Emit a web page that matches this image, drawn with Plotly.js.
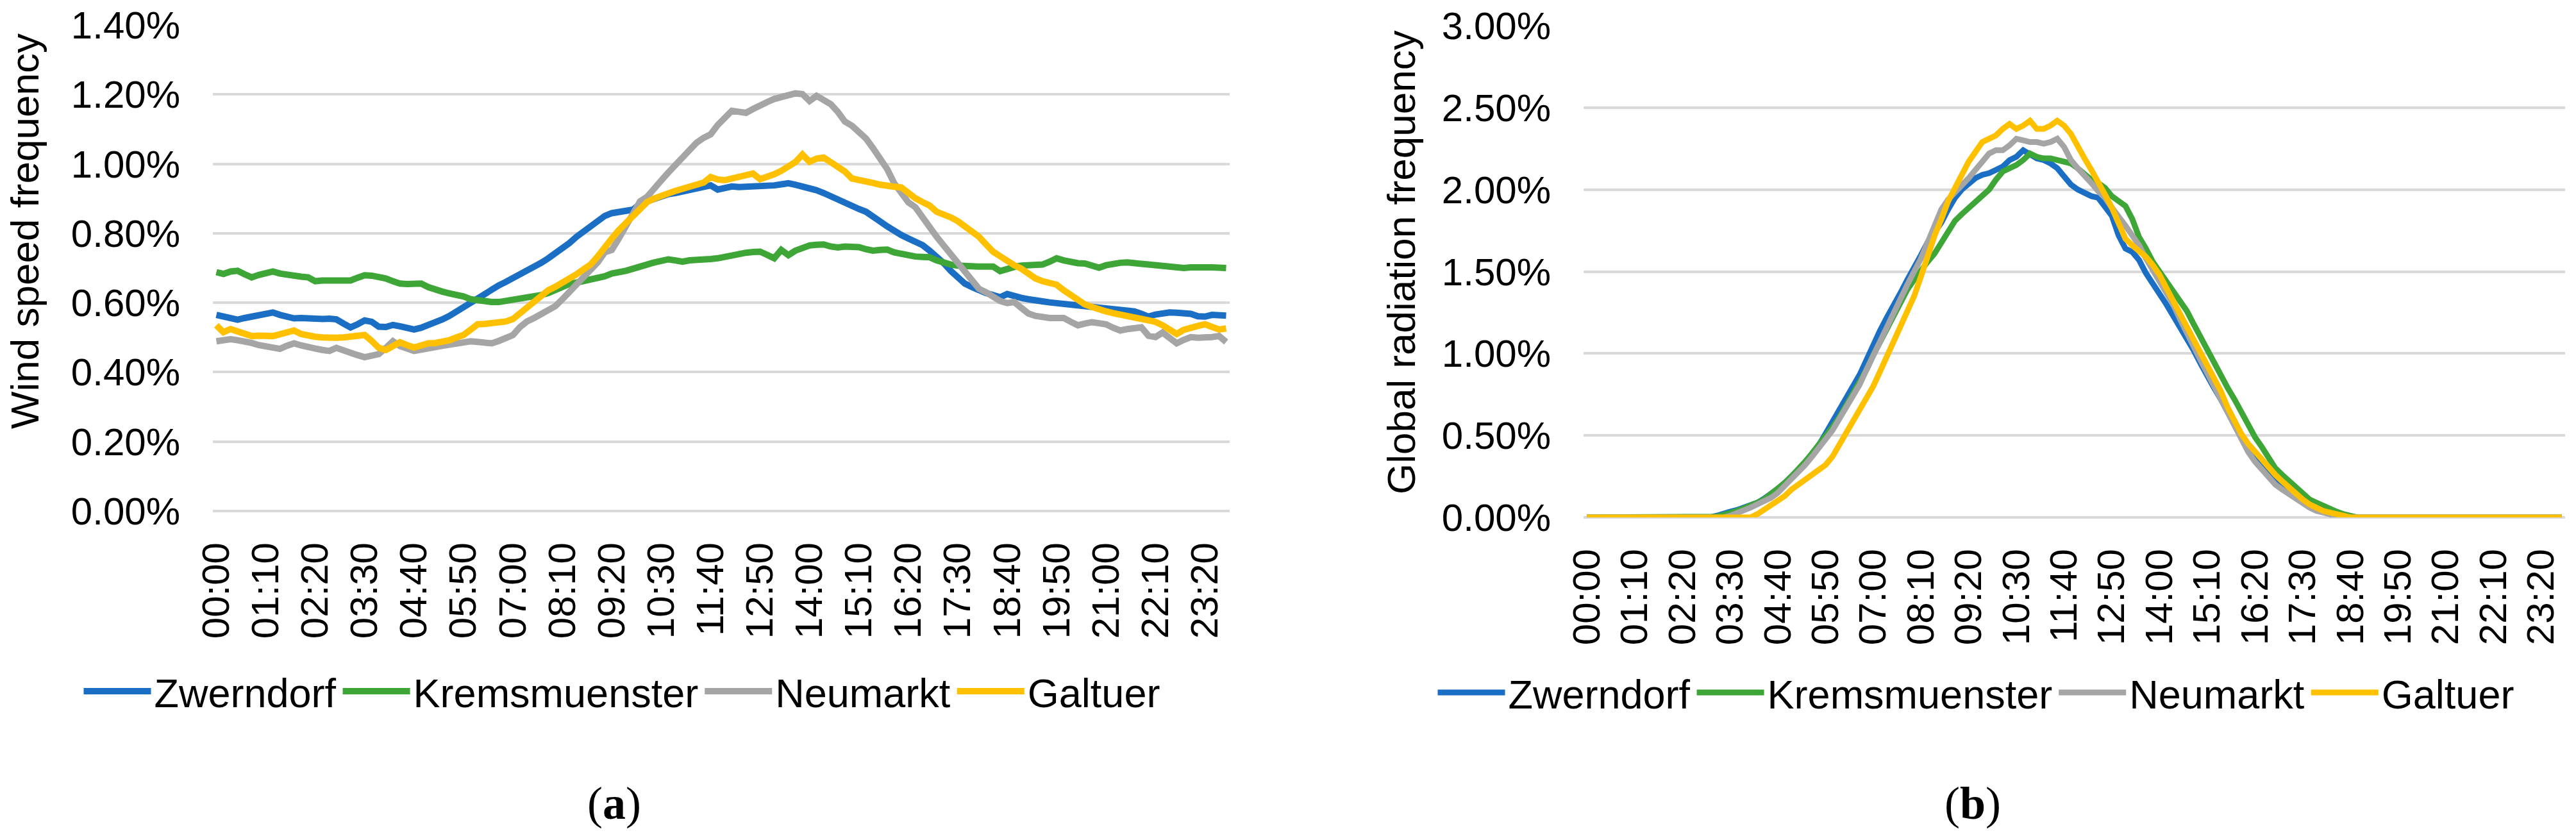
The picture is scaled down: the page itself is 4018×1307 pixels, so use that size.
<!DOCTYPE html>
<html>
<head>
<meta charset="utf-8">
<script src="https://cdn.plot.ly/plotly-3.0.1.min.js"></script>
<style>html,body{margin:0;padding:0;background:#fff;}#chart{width:4018px;height:1307px;}</style>
</head>
<body>
<div id="chart"></div>
<script>
const times = ["00:00","00:10","00:20","00:30","00:40","00:50","01:00","01:10","01:20","01:30","01:40","01:50",
"02:00","02:10","02:20","02:30","02:40","02:50","03:00","03:10","03:20","03:30","03:40","03:50",
"04:00","04:10","04:20","04:30","04:40","04:50","05:00","05:10","05:20","05:30","05:40","05:50",
"06:00","06:10","06:20","06:30","06:40","06:50","07:00","07:10","07:20","07:30","07:40","07:50",
"08:00","08:10","08:20","08:30","08:40","08:50","09:00","09:10","09:20","09:30","09:40","09:50",
"10:00","10:10","10:20","10:30","10:40","10:50","11:00","11:10","11:20","11:30","11:40","11:50",
"12:00","12:10","12:20","12:30","12:40","12:50","13:00","13:10","13:20","13:30","13:40","13:50",
"14:00","14:10","14:20","14:30","14:40","14:50","15:00","15:10","15:20","15:30","15:40","15:50",
"16:00","16:10","16:20","16:30","16:40","16:50","17:00","17:10","17:20","17:30","17:40","17:50",
"18:00","18:10","18:20","18:30","18:40","18:50","19:00","19:10","19:20","19:30","19:40","19:50",
"20:00","20:10","20:20","20:30","20:40","20:50","21:00","21:10","21:20","21:30","21:40","21:50",
"22:00","22:10","22:20","22:30","22:40","22:50","23:00","23:10","23:20","23:30","23:40","23:50"];

const tickLabels = ["00:00","01:10","02:20","03:30","04:40","05:50","07:00","08:10","09:20","10:30","11:40",
"12:50","14:00","15:10","16:20","17:30","18:40","19:50","21:00","22:10","23:20"];

const stations = ["Zwerndorf","Kremsmuenster","Neumarkt","Galtuer"];

// Wind speed frequency (%)
const windZwerndorf = [
0.565,0.560,0.556,0.551,0.556,0.560,0.565,0.568,0.572,0.565,0.558,0.555,
0.556,0.554,0.555,0.553,0.554,0.552,0.540,0.529,0.538,0.549,0.545,0.531,
0.530,0.536,0.532,0.526,0.523,0.528,0.535,0.542,0.552,0.562,0.575,0.588,
0.600,0.612,0.627,0.640,0.650,0.660,0.670,0.680,0.690,0.702,0.715,0.728,
0.742,0.758,0.772,0.790,0.805,0.822,0.835,0.850,0.858,0.860,0.862,0.868,
0.885,0.893,0.900,0.906,0.913,0.916,0.920,0.924,0.928,0.932,0.938,0.926,
0.932,0.935,0.933,0.934,0.932,0.932,0.934,0.938,0.941,0.944,0.940,0.936,
0.930,0.924,0.916,0.906,0.896,0.889,0.878,0.870,0.862,0.850,0.834,0.820,
0.805,0.795,0.785,0.775,0.766,0.750,0.734,0.714,0.692,0.672,0.655,0.645,
0.634,0.628,0.622,0.616,0.625,0.618,0.614,0.610,0.605,0.604,0.601,0.599,
0.596,0.592,0.589,0.587,0.586,0.585,0.584,0.580,0.578,0.576,0.575,0.568,
0.560,0.566,0.570,0.572,0.571,0.569,0.568,0.561,0.560,0.565,0.564,0.563];

const windKremsmuenster = [
0.688,0.683,0.690,0.692,0.682,0.673,0.680,0.687,0.690,0.684,0.680,0.676,
0.675,0.673,0.662,0.664,0.665,0.664,0.663,0.664,0.672,0.679,0.678,0.676,
0.670,0.662,0.655,0.654,0.655,0.655,0.645,0.636,0.632,0.627,0.624,0.618,
0.610,0.606,0.603,0.602,0.602,0.605,0.610,0.614,0.618,0.620,0.622,0.628,
0.638,0.648,0.654,0.658,0.662,0.664,0.670,0.676,0.684,0.686,0.692,0.698,
0.706,0.710,0.716,0.720,0.725,0.722,0.718,0.722,0.722,0.725,0.726,0.728,
0.733,0.738,0.742,0.744,0.746,0.747,0.738,0.728,0.752,0.737,0.750,0.760,
0.765,0.767,0.768,0.762,0.759,0.762,0.763,0.760,0.754,0.750,0.752,0.753,
0.745,0.740,0.734,0.733,0.732,0.731,0.722,0.714,0.710,0.707,0.705,0.704,
0.704,0.704,0.704,0.691,0.698,0.703,0.707,0.708,0.709,0.710,0.718,0.728,
0.722,0.716,0.714,0.713,0.708,0.701,0.708,0.713,0.715,0.716,0.716,0.712,
0.710,0.708,0.707,0.704,0.701,0.700,0.702,0.703,0.701,0.702,0.701,0.700];

const windNeumarkt = [
0.489,0.492,0.495,0.492,0.489,0.484,0.478,0.474,0.470,0.467,0.476,0.483,
0.477,0.471,0.468,0.464,0.461,0.470,0.462,0.455,0.449,0.443,0.448,0.452,
0.470,0.489,0.475,0.466,0.461,0.465,0.470,0.473,0.476,0.479,0.482,0.486,
0.489,0.487,0.485,0.483,0.490,0.500,0.507,0.530,0.546,0.556,0.566,0.578,
0.590,0.610,0.630,0.652,0.673,0.695,0.716,0.745,0.752,0.785,0.821,0.860,
0.892,0.905,0.926,0.952,0.975,0.998,1.018,1.040,1.061,1.075,1.085,1.112,
1.135,1.153,1.150,1.147,1.158,1.166,1.178,1.187,1.193,1.198,1.203,1.201,
1.181,1.196,1.185,1.172,1.150,1.122,1.110,1.090,1.073,1.045,1.018,0.985,
0.944,0.915,0.889,0.875,0.845,0.821,0.790,0.765,0.740,0.716,0.692,0.668,
0.640,0.630,0.618,0.605,0.599,0.602,0.585,0.569,0.562,0.558,0.556,0.556,
0.556,0.545,0.535,0.540,0.544,0.541,0.538,0.528,0.520,0.524,0.528,0.529,
0.505,0.501,0.514,0.500,0.483,0.493,0.501,0.499,0.498,0.501,0.504,0.487];

const windGaltuer = [
0.535,0.515,0.524,0.516,0.508,0.504,0.505,0.504,0.504,0.509,0.514,0.520,
0.510,0.504,0.502,0.500,0.498,0.499,0.500,0.501,0.504,0.507,0.490,0.470,
0.464,0.475,0.486,0.478,0.471,0.477,0.483,0.484,0.486,0.492,0.500,0.507,
0.522,0.538,0.539,0.540,0.541,0.546,0.553,0.570,0.590,0.605,0.620,0.636,
0.646,0.657,0.667,0.682,0.696,0.710,0.733,0.756,0.785,0.809,0.830,0.852,
0.873,0.890,0.900,0.910,0.915,0.922,0.929,0.935,0.940,0.946,0.962,0.955,
0.953,0.958,0.962,0.968,0.972,0.956,0.962,0.970,0.980,0.990,1.005,1.027,
1.006,1.015,1.018,1.005,0.993,0.978,0.958,0.955,0.950,0.945,0.940,0.935,
0.934,0.932,0.915,0.901,0.890,0.880,0.862,0.855,0.846,0.835,0.821,0.808,
0.790,0.768,0.747,0.734,0.720,0.708,0.698,0.684,0.670,0.662,0.658,0.652,
0.636,0.621,0.608,0.595,0.588,0.580,0.575,0.570,0.566,0.563,0.560,0.557,
0.553,0.545,0.535,0.521,0.510,0.522,0.529,0.533,0.538,0.530,0.523,0.526];

// Global radiation frequency (%)
const radZwerndorf = [
0,0,0,0,0,0,0,0,0,0,0,0,
0,0,0,0,0,0,0,0.010,0.025,0.035,0.045,0.058,
0.070,0.090,0.115,0.140,0.175,0.210,0.245,0.290,0.335,0.385,0.440,0.510,
0.580,0.660,0.730,0.800,0.870,0.960,1.060,1.140,1.220,1.290,1.370,1.450,
1.520,1.600,1.680,1.740,1.800,1.880,1.950,2.000,2.040,2.070,2.090,2.100,
2.120,2.140,2.180,2.200,2.240,2.210,2.190,2.180,2.160,2.130,2.080,2.030,
2.000,1.980,1.960,1.950,1.900,1.840,1.720,1.640,1.620,1.570,1.490,1.430,
1.360,1.300,1.230,1.160,1.100,1.020,0.940,0.860,0.790,0.720,0.640,0.560,
0.490,0.420,0.360,0.310,0.270,0.230,0.200,0.170,0.140,0.110,0.080,0.060,
0.040,0.020,0.010,0,0,0,0,0,0,0,0,0,
0,0,0,0,0,0,0,0,0,0,0,0,
0,0,0,0,0,0,0,0,0,0,0,0];

const radKremsmuenster = [
0,0,0,0,0,0,0,0,0,0,0,0,
0,0,0,0,0,0,0,0.005,0.015,0.025,0.040,0.055,
0.070,0.090,0.110,0.140,0.170,0.210,0.250,0.290,0.340,0.390,0.440,0.500,
0.550,0.610,0.680,0.750,0.820,0.900,0.990,1.070,1.150,1.230,1.310,1.390,
1.450,1.510,1.560,1.610,1.680,1.750,1.810,1.850,1.890,1.920,1.960,2.000,
2.060,2.110,2.130,2.150,2.180,2.220,2.200,2.190,2.190,2.180,2.170,2.160,
2.130,2.090,2.060,2.040,2.010,1.960,1.930,1.900,1.820,1.710,1.640,1.560,
1.500,1.440,1.380,1.330,1.260,1.180,1.100,1.030,0.950,0.870,0.790,0.720,
0.640,0.570,0.490,0.430,0.360,0.300,0.260,0.220,0.180,0.140,0.110,0.090,
0.070,0.050,0.035,0.020,0.010,0,0,0,0,0,0,0,
0,0,0,0,0,0,0,0,0,0,0,0,
0,0,0,0,0,0,0,0,0,0,0,0];

const radNeumarkt = [
0,0,0,0,0,0,0,0,0,0,0,0,
0,0,0,0,0,0,0,0,0,0.010,0.025,0.040,
0.060,0.080,0.100,0.120,0.150,0.190,0.230,0.270,0.320,0.370,0.420,0.470,
0.530,0.600,0.670,0.730,0.810,0.900,0.990,1.070,1.160,1.260,1.340,1.420,
1.500,1.580,1.680,1.780,1.880,1.940,1.980,2.020,2.070,2.120,2.170,2.220,
2.240,2.240,2.270,2.310,2.300,2.290,2.290,2.280,2.290,2.310,2.260,2.180,
2.130,2.090,2.040,1.990,1.950,1.890,1.840,1.780,1.720,1.660,1.580,1.510,
1.440,1.370,1.300,1.210,1.120,1.040,0.960,0.880,0.800,0.710,0.630,0.550,
0.470,0.400,0.340,0.290,0.240,0.200,0.170,0.140,0.110,0.080,0.060,0.040,
0.030,0.020,0.010,0,0,0,0,0,0,0,0,0,
0,0,0,0,0,0,0,0,0,0,0,0,
0,0,0,0,0,0,0,0,0,0,0,0];

const radGaltuer = [
0,0,0,0,0,0,0,0,0,0,0,0,
0,0,0,0,0,0,0,0,0,0,0,0,
0,0.020,0.045,0.070,0.100,0.130,0.170,0.200,0.230,0.260,0.290,0.320,
0.370,0.440,0.510,0.580,0.650,0.720,0.800,0.890,0.980,1.070,1.160,1.250,
1.350,1.470,1.600,1.720,1.820,1.930,2.010,2.100,2.170,2.230,2.290,2.310,
2.330,2.370,2.400,2.370,2.390,2.420,2.370,2.370,2.390,2.420,2.390,2.340,
2.260,2.190,2.120,2.050,1.970,1.890,1.800,1.700,1.660,1.630,1.590,1.540,
1.480,1.400,1.320,1.250,1.170,1.090,1.010,0.930,0.850,0.770,0.670,0.580,
0.510,0.450,0.400,0.350,0.310,0.260,0.220,0.180,0.150,0.110,0.080,0.060,
0.040,0.030,0.020,0.010,0,0,0,0,0,0,0,0,
0,0,0,0,0,0,0,0,0,0,0,0,
0,0,0,0,0,0,0,0,0,0,0,0];

const colors = ["#1A6FC4","#3DA637","#A5A5A5","#FFC000"];
const windSeries = [windZwerndorf, windKremsmuenster, windNeumarkt, windGaltuer];
const radSeries = [radZwerndorf, radKremsmuenster, radNeumarkt, radGaltuer];

const FONT = "Liberation Sans, Arial, sans-serif";
const W = 4018, H = 1307;
const px = v => v / W;
const py = v => 1 - v / H;

const traces = [];
windSeries.forEach((s, k) => traces.push({
  type: "scatter", mode: "lines", x: times, y: s, name: stations[k],
  xaxis: "x", yaxis: "y", legend: "legend",
  line: {color: colors[k], width: 10}, hoverinfo: "x+y+name"
}));
radSeries.forEach((s, k) => traces.push({
  type: "scatter", mode: "lines", x: times, y: s, name: stations[k],
  xaxis: "x2", yaxis: "y2", legend: "legend2",
  line: {color: colors[k], width: 9}, hoverinfo: "x+y+name"
}));

const xBase = {
  type: "category", categoryorder: "array", categoryarray: times,
  range: [-0.5, times.length - 0.5], tickmode: "array",
  tickvals: tickLabels, ticktext: tickLabels, tickangle: -90,
  tickfont: {family: FONT, size: 60, color: "#000"},
  showgrid: false, zeroline: false, showline: false, ticks: "",
  ticklabelstandoff: 36, fixedrange: true
};
const yBase = {
  tickformat: ".2f", ticksuffix: "%",
  tickfont: {family: FONT, size: 60, color: "#000"},
  showgrid: true, gridcolor: "#D9D9D9", gridwidth: 4,
  zeroline: true, zerolinecolor: "#D9D9D9", zerolinewidth: 4,
  showline: false, ticks: "", ticklabelstandoff: 50, fixedrange: true
};

const layout = {
  width: W, height: H, margin: {l: 0, r: 0, t: 0, b: 0},
  paper_bgcolor: "#fff", plot_bgcolor: "#fff",
  font: {family: FONT, color: "#000"},
  xaxis: Object.assign({}, xBase, {domain: [px(332), px(1918)], anchor: "y"}),
  yaxis: Object.assign({}, yBase, {domain: [py(797), py(39)], range: [0, 1.4], dtick: 0.2, anchor: "x"}),
  xaxis2: Object.assign({}, xBase, {domain: [px(2470), px(4001)], anchor: "y2"}),
  yaxis2: Object.assign({}, yBase, {domain: [py(807), py(40)], range: [0, 3.0], dtick: 0.5, anchor: "x2"}),
  legend: {orientation: "h", x: px(970), xanchor: "center", y: py(1078), yanchor: "middle",
    font: {family: FONT, size: 63, color: "#000"}, bgcolor: "rgba(0,0,0,0)", itemwidth: 105},
  legend2: {orientation: "h", x: px(3082), xanchor: "center", y: py(1080), yanchor: "middle",
    font: {family: FONT, size: 63, color: "#000"}, bgcolor: "rgba(0,0,0,0)", itemwidth: 105},
  showlegend: true,
  annotations: [
    {text: "Wind speed frequency", textangle: -90, x: px(38), y: py(361), xref: "paper", yref: "paper",
     xanchor: "center", yanchor: "middle", showarrow: false, font: {family: FONT, size: 62, color: "#000"}},
    {text: "Global radiation frequency", textangle: -90, x: px(2185), y: py(409), xref: "paper", yref: "paper",
     xanchor: "center", yanchor: "middle", showarrow: false, font: {family: FONT, size: 62, color: "#000"}},
    {text: "(<b>a</b>)", x: px(958), y: py(1253), xref: "paper", yref: "paper", xanchor: "center", yanchor: "middle",
     showarrow: false, font: {family: "Liberation Serif, Times New Roman, serif", size: 72, color: "#000"}},
    {text: "(<b>b</b>)", x: px(3077), y: py(1253), xref: "paper", yref: "paper", xanchor: "center", yanchor: "middle",
     showarrow: false, font: {family: "Liberation Serif, Times New Roman, serif", size: 72, color: "#000"}}
  ]
};

Plotly.newPlot("chart", traces, layout, {displayModeBar: false, staticPlot: true});
</script>
</body>
</html>
